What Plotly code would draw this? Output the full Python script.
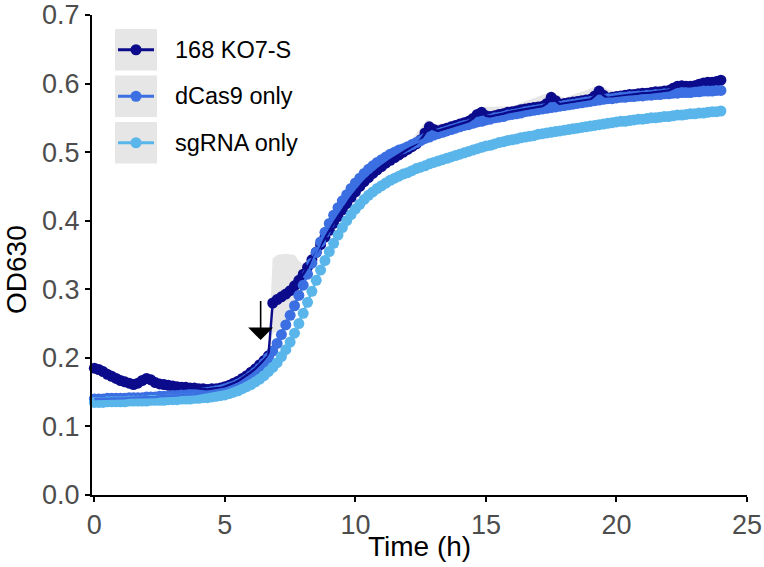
import plotly.graph_objects as go

# ---------------- data ----------------
time_min = list(range(0, 1441, 10))          # sampling every 10 min, 0-24 h
time_h = [m / 60 for m in time_min]

series_names = ["168 KO7-S", "dCas9 only", "sgRNA only"]
series_colors = ["#0b0b8c", "#3b6fe2", "#5ab6ea"]

ko7_s = [
    0.185, 0.183, 0.180, 0.176, 0.173, 0.170,
    0.167, 0.165, 0.163, 0.161, 0.163, 0.167,
    0.170, 0.168, 0.164, 0.162, 0.161, 0.160,
    0.159, 0.158, 0.157, 0.157, 0.156, 0.156,
    0.155, 0.155, 0.154, 0.155, 0.155, 0.156,
    0.158, 0.160, 0.163, 0.166, 0.170, 0.174,
    0.179, 0.184, 0.190, 0.196, 0.203, 0.280,
    0.285, 0.289, 0.293, 0.298, 0.305, 0.313,
    0.322, 0.332, 0.343, 0.354, 0.365, 0.376,
    0.386, 0.396, 0.406, 0.416, 0.425, 0.434,
    0.442, 0.450, 0.457, 0.463, 0.469, 0.474,
    0.479, 0.484, 0.488, 0.492, 0.496, 0.500,
    0.504, 0.508, 0.512, 0.518, 0.528, 0.537,
    0.533, 0.531, 0.533, 0.535, 0.537, 0.539,
    0.541, 0.543, 0.545, 0.549, 0.555, 0.558,
    0.553, 0.552, 0.553, 0.555, 0.556, 0.558,
    0.559, 0.560, 0.562, 0.563, 0.564, 0.565,
    0.566, 0.567, 0.571, 0.580, 0.575, 0.570,
    0.571, 0.572, 0.573, 0.574, 0.575, 0.576,
    0.577, 0.582, 0.589, 0.583, 0.579, 0.580,
    0.581, 0.582, 0.583, 0.584, 0.584, 0.585,
    0.586, 0.586, 0.587, 0.588, 0.588, 0.589,
    0.590, 0.593, 0.596, 0.597, 0.596, 0.596,
    0.597, 0.599, 0.601, 0.602, 0.602, 0.603,
    0.605,
]

dcas9_only = [
    0.140, 0.140, 0.140, 0.141, 0.141, 0.141,
    0.141, 0.141, 0.142, 0.142, 0.142, 0.142,
    0.143, 0.143, 0.143, 0.144, 0.144, 0.144,
    0.145, 0.145, 0.146, 0.146, 0.147, 0.147,
    0.148, 0.149, 0.150, 0.151, 0.152, 0.153,
    0.155, 0.157, 0.159, 0.162, 0.165, 0.169,
    0.174, 0.179, 0.185, 0.192, 0.200, 0.210,
    0.221, 0.234, 0.248, 0.262, 0.276, 0.291,
    0.306, 0.322, 0.338, 0.354, 0.369, 0.383,
    0.396, 0.408, 0.419, 0.429, 0.438, 0.447,
    0.455, 0.462, 0.469, 0.475, 0.480, 0.485,
    0.489, 0.493, 0.497, 0.500, 0.503, 0.505,
    0.508, 0.511, 0.514, 0.517, 0.520, 0.522,
    0.525, 0.527, 0.529, 0.531, 0.533, 0.535,
    0.537, 0.539, 0.540, 0.542, 0.544, 0.545,
    0.547, 0.548, 0.550, 0.551, 0.552, 0.554,
    0.555, 0.556, 0.557, 0.559, 0.560, 0.561,
    0.562, 0.563, 0.564, 0.565, 0.566, 0.567,
    0.568, 0.569, 0.570, 0.571, 0.572, 0.573,
    0.574, 0.575, 0.576, 0.577, 0.578, 0.578,
    0.579, 0.580, 0.580, 0.581, 0.581, 0.582,
    0.582, 0.583, 0.583, 0.584, 0.584, 0.585,
    0.585, 0.586, 0.586, 0.587, 0.587, 0.587,
    0.588, 0.588, 0.589, 0.589, 0.589, 0.590,
    0.590,
]

sgrna_only = [
    0.135, 0.135, 0.135, 0.136, 0.136, 0.136,
    0.136, 0.136, 0.137, 0.137, 0.137, 0.137,
    0.137, 0.138, 0.138, 0.138, 0.138, 0.139,
    0.139, 0.139, 0.140, 0.140, 0.140, 0.141,
    0.141, 0.142, 0.142, 0.143, 0.144, 0.145,
    0.146, 0.148, 0.150, 0.152, 0.155, 0.158,
    0.161, 0.165, 0.169, 0.174, 0.180, 0.186,
    0.193, 0.202, 0.212, 0.223, 0.236, 0.250,
    0.265, 0.281, 0.297, 0.313, 0.328, 0.342,
    0.355, 0.367, 0.379, 0.390, 0.400, 0.409,
    0.417, 0.424, 0.431, 0.437, 0.442, 0.447,
    0.451, 0.455, 0.459, 0.462, 0.465, 0.468,
    0.470, 0.473, 0.476, 0.478, 0.480, 0.483,
    0.485, 0.487, 0.489, 0.491, 0.493, 0.495,
    0.497, 0.499, 0.501, 0.503, 0.505, 0.507,
    0.509, 0.510, 0.512, 0.514, 0.515, 0.517,
    0.518, 0.519, 0.521, 0.522, 0.523, 0.524,
    0.526, 0.527, 0.528, 0.529, 0.530, 0.531,
    0.532, 0.533, 0.534, 0.535, 0.536, 0.537,
    0.538, 0.539, 0.540, 0.541, 0.542, 0.543,
    0.544, 0.545, 0.545, 0.546, 0.547, 0.548,
    0.548, 0.549, 0.550, 0.550, 0.551, 0.552,
    0.552, 0.553, 0.554, 0.554, 0.555, 0.556,
    0.556, 0.557, 0.557, 0.558, 0.559, 0.559,
    0.560,
]

# standard-error ribbon of 168 KO7-S (knots)
ko7_se_t = [6.5, 6.67, 6.83, 7.0, 7.33, 7.67, 7.83, 8.0, 8.5, 9, 10, 11, 12, 12.75, 13, 14, 14.8, 16, 17.5, 18, 19.3, 20, 22, 24]
ko7_se_hi = [0.20, 0.215, 0.345, 0.350, 0.352, 0.350, 0.342, 0.336, 0.368, 0.392, 0.450, 0.487, 0.510, 0.548, 0.540, 0.546, 0.566, 0.567, 0.588, 0.579, 0.597, 0.587, 0.594, 0.609]
ko7_se_lo = [0.188, 0.195, 0.235, 0.240, 0.250, 0.270, 0.290, 0.305, 0.352, 0.378, 0.434, 0.472, 0.498, 0.532, 0.526, 0.535, 0.552, 0.556, 0.576, 0.566, 0.584, 0.576, 0.584, 0.600]

y_ticks = [0.0, 0.1, 0.2, 0.3, 0.4, 0.5, 0.6, 0.7]
x_ticks = [0, 5, 10, 15, 20, 25]

arrow_time = 6.37
arrow_tail_od = 0.285
arrow_tip_od = 0.226

# ---------------- geometry helpers ----------------
W, H = 764, 567
L, R, T, B = 92, 747, 15, 495        # plot area in pixels
FONT = "Liberation Sans, Arial, sans-serif"


def px_x(px):
    return (px - L) / (R - L)


def px_y(py):
    return (B - py) / (B - T)


fig = go.Figure()

# ribbon
fig.add_trace(go.Scatter(
    x=ko7_se_t + ko7_se_t[::-1],
    y=ko7_se_hi + ko7_se_lo[::-1],
    fill="toself", fillcolor="rgba(200,200,200,0.45)",
    line=dict(width=0), mode="lines", hoverinfo="skip", showlegend=False,
))

all_series = [ko7_s, dcas9_only, sgrna_only]

# points layer
for name, vals, col in zip(series_names, all_series, series_colors):
    fig.add_trace(go.Scatter(
        x=time_h, y=vals, mode="markers", name=name, showlegend=False,
        marker=dict(size=11, color=col, line=dict(width=0)),
        cliponaxis=False,
    ))

# lines layer
for name, vals, col in zip(series_names, all_series, series_colors):
    fig.add_trace(go.Scatter(
        x=time_h, y=vals, mode="lines", name=name, showlegend=False,
        line=dict(width=2.4, color=col),
        cliponaxis=False,
    ))

shapes = []
annotations = []

# manual legend
box_tops = [29, 75.5, 122]
box_h = 41.5
for i, (name, col) in enumerate(zip(series_names, series_colors)):
    y0 = box_tops[i]
    yc = y0 + box_h / 2
    shapes.append(dict(type="rect", xref="paper", yref="paper",
                       x0=px_x(115), x1=px_x(157), y0=px_y(y0 + box_h), y1=px_y(y0),
                       fillcolor="#e6e6e6", line=dict(width=0), layer="above"))
    shapes.append(dict(type="line", xref="paper", yref="paper",
                       x0=px_x(118), x1=px_x(154), y0=px_y(yc), y1=px_y(yc),
                       line=dict(color=col, width=3), layer="above"))
    shapes.append(dict(type="circle", xref="paper", yref="paper",
                       x0=px_x(130.5), x1=px_x(141.5), y0=px_y(yc + 5.5), y1=px_y(yc - 5.5),
                       fillcolor=col, line=dict(width=0), layer="above"))
    annotations.append(dict(xref="paper", yref="paper", x=px_x(173), y=px_y(yc),
                            text=name, showarrow=False, xanchor="left", yanchor="middle",
                            font=dict(family=FONT, size=23.5, color="black")))

# arrow
annotations.append(dict(x=arrow_time, y=arrow_tip_od, ax=arrow_time, ay=arrow_tail_od,
                        xref="x", yref="y", axref="x", ayref="y", text="",
                        showarrow=True, arrowhead=1, arrowsize=2.6, arrowwidth=1.6,
                        arrowcolor="black"))

# axis titles
annotations.append(dict(xref="paper", yref="paper", x=px_x(419), y=px_y(546),
                        text="Time (h)", showarrow=False, xanchor="center", yanchor="middle",
                        font=dict(family=FONT, size=28, color="black")))
annotations.append(dict(xref="paper", yref="paper", x=px_x(16), y=px_y(270),
                        text="OD630", showarrow=False, textangle=-90,
                        xanchor="center", yanchor="middle",
                        font=dict(family=FONT, size=28, color="black")))

fig.update_layout(
    width=W, height=H,
    margin=dict(l=L, r=W - R, t=T, b=H - B, pad=0, autoexpand=False),
    paper_bgcolor="white", plot_bgcolor="white",
    shapes=shapes, annotations=annotations,
    showlegend=False,
    font=dict(family=FONT),
)

fig.update_xaxes(
    range=[-0.09, 25.0], tickvals=x_ticks, ticktext=[str(v) for v in x_ticks],
    showgrid=False, zeroline=False, showline=True, linecolor="black", linewidth=2,
    ticks="outside", ticklen=5, tickwidth=1.5, tickcolor="black", automargin=False,
    tickfont=dict(family=FONT, size=27, color="#4d4d4d"),
)
fig.update_yaxes(
    range=[0, 0.7], tickvals=y_ticks, ticktext=[f"{v:.1f}" for v in y_ticks],
    showgrid=False, zeroline=False, showline=True, linecolor="black", linewidth=2,
    ticks="outside", ticklen=5, tickwidth=1.5, tickcolor="black", automargin=False,
    tickfont=dict(family=FONT, size=27, color="#4d4d4d"),
)

fig.write_html("out.html")
